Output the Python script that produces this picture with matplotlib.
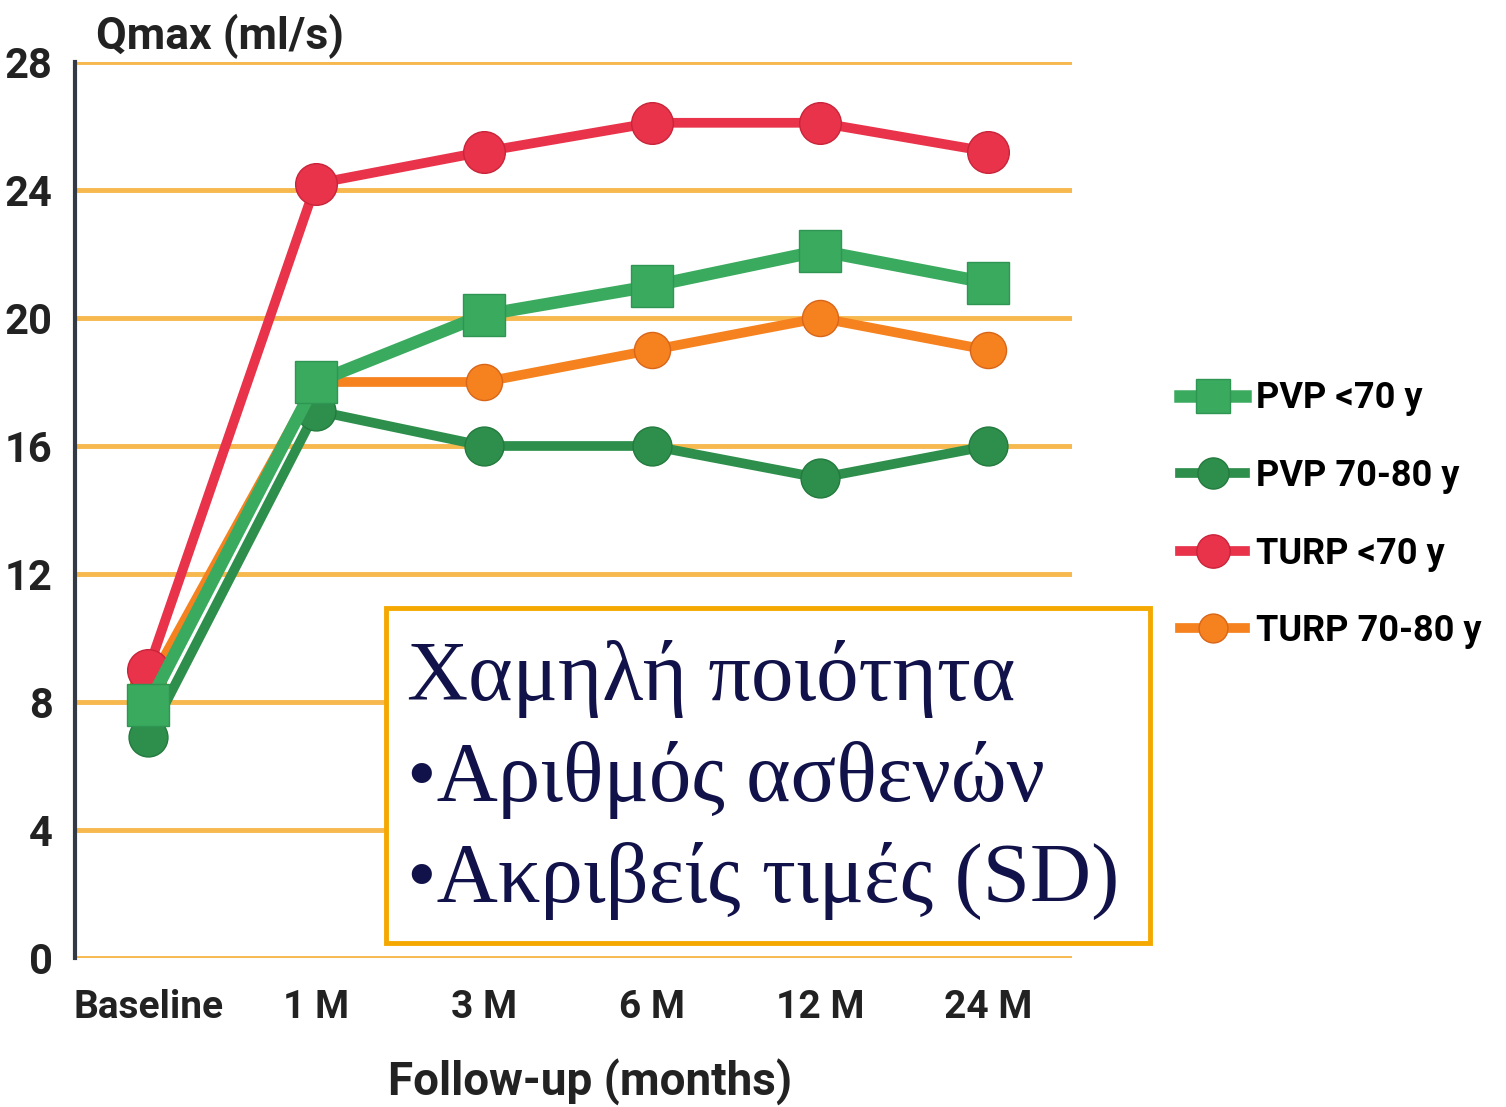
import matplotlib
matplotlib.use("Agg")
import matplotlib.pyplot as plt
from matplotlib.patches import Rectangle

# data
timepoints = ["Baseline", "1 M", "3 M", "6 M", "12 M", "24 M"]
pvp_lt70 = [7.9, 18.0, 20.1, 21.0, 22.1, 21.1]
pvp_70_80 = [6.9, 17.1, 16.0, 16.0, 15.0, 16.0]
turp_lt70 = [9.0, 24.2, 25.2, 26.1, 26.1, 25.2]
turp_70_80 = [8.5, 18.0, 18.0, 19.0, 20.0, 19.0]
yticks = [0, 4, 8, 12, 16, 20, 24, 28]

note_lines = ["Χαμηλή ποιότητα", "•Αριθμός ασθενών", "•Ακριβείς τιμές (SD)"]

label_font = ["Roboto", "DejaVu Sans"]
grid_col = "#f7b84e"

fig = plt.figure(figsize=(15.06, 11.07), dpi=100)
ax = fig.add_axes([0.0498, 0.1346, 0.6620, 0.8094])

x = list(range(len(timepoints)))

# draw order: orange under, squares on top
ax.plot(x, turp_70_80, "-o", color="#f5821f", lw=7, ms=26, mec="#d9651a",
        label="TURP 70-80 y", zorder=3)
ax.plot(x, turp_lt70, "-o", color="#e8334a", lw=7, ms=30, mec="#c9243a",
        label="TURP <70 y", zorder=4)
ax.plot(x, pvp_70_80, "-o", color="#2e8f4c", lw=7, ms=28, mec="#237a3e",
        label="PVP 70-80 y", zorder=5)
ax.plot(x, pvp_lt70, "-s", color="#3aaa5f", lw=9, ms=30, mec="#2f9552",
        label="PVP <70 y", zorder=6)

ax.set_ylim(0, 28)
ax.set_xlim(-0.435, 5.5)
ax.yaxis.grid(True, color=grid_col, lw=3.5, zorder=1)
ax.set_axisbelow(True)
for s in ["top", "right", "bottom"]:
    ax.spines[s].set_visible(False)
ax.spines["left"].set_color("#333a45")
ax.spines["left"].set_linewidth(3)
ax.tick_params(axis="both", length=0)
ax.set_yticks(yticks)
ax.set_yticklabels([str(v) for v in yticks], fontsize=30, fontweight="bold",
                   family=label_font, color="#222222")
ax.set_xticks(x)
ax.set_xticklabels(timepoints, fontsize=28, fontweight="bold",
                   family=label_font, color="#222222")
ax.tick_params(axis="x", pad=22)
ax.tick_params(axis="y", pad=16)

fig.text(0.064, 0.967, "Qmax (ml/s)", fontsize=32, fontweight="bold",
         family=label_font, color="#222222", va="center", ha="left")
fig.text(0.392, 0.022, "Follow-up (months)", fontsize=33, fontweight="bold",
         family=label_font, color="#222222", va="center", ha="center")

handles, labels = ax.get_legend_handles_labels()
order = [3, 2, 1, 0]
ax.legend([handles[i] for i in order], [labels[i] for i in order],
          loc="center left", bbox_to_anchor=(0.762, 0.535),
          bbox_transform=fig.transFigure, frameon=False,
          prop={"family": label_font, "weight": "bold", "size": 26},
          handlelength=1.8, markerscale=0.8, labelspacing=1.15,
          handletextpad=0.3)

# note box
box = Rectangle((0.2565, 0.148), 0.507, 0.303, transform=fig.transFigure,
                facecolor="white", edgecolor="#f5a800", lw=3.5, zorder=10)
fig.add_artist(box)
for i, line in enumerate(note_lines):
    fig.text(0.270, 0.387 - i * 0.0915, line, fontsize=61,
             family="Liberation Serif", color="#12124a", va="center",
             ha="left", zorder=11)

fig.savefig("out.png", dpi=100)
